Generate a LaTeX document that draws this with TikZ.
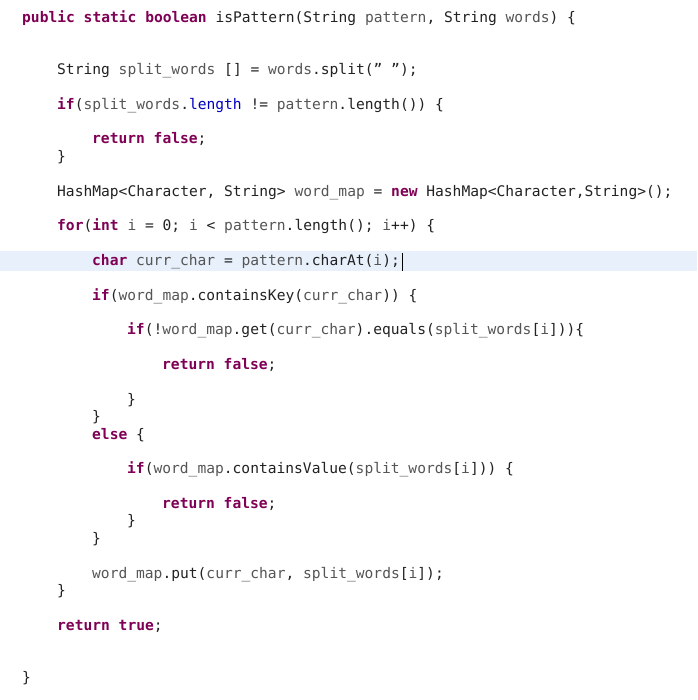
\documentclass[tikz,border=0pt]{standalone}
\usepackage{fontspec}
\setmainfont[Ligatures=NoCommon]{DejaVu Sans Mono}
\definecolor{kwc}{HTML}{7F0055}
\definecolor{vrc}{HTML}{555555}
\definecolor{fdc}{HTML}{0000C0}
\definecolor{txc}{HTML}{222222}
\definecolor{hlc}{HTML}{E8F0FB}
\newcommand{\kw}[1]{\textbf{\textcolor{kwc}{#1}}}
\newcommand{\vr}[1]{\textcolor{vrc}{#1}}
\newcommand{\fd}[1]{\textcolor{fdc}{#1}}
\newcommand{\dq}{\symbol{34}}
\begin{document}
\begin{tikzpicture}[x=1pt,y=-1pt,
  code/.style={anchor=mid west, inner sep=0pt, text=txc, font=\fontsize{14.6}{16}\selectfont}]
\useasboundingbox (0,0) rectangle (697,700);
\fill[white] (0,0) rectangle (697,700);
\fill[hlc] (0,251) rectangle (697,271);
\begin{scope}[yshift=-3pt]
\node[code] (l1) at (22,17) {\kw{public} \kw{static} \kw{boolean} isPattern(String \vr{pattern}, String \vr{words}) \{};
\node[code] (l2) at (57,69) {String \vr{split\_words} [] = \vr{words}.split(\dq{} \dq{});};
\node[code] (l3) at (57,104) {\kw{if}(\vr{split\_words}.\fd{length} != \vr{pattern}.length()) \{};
\node[code] (l4) at (92,138) {\kw{return} \kw{false};};
\node[code] (l5) at (57,156) {\}};
\node[code] (l6) at (57,191) {HashMap<Character, String> \vr{word\_map} = \kw{new} HashMap<Character,String>();};
\node[code] (l7) at (57,225) {\kw{for}(\kw{int} \vr{i} = 0; \vr{i} < \vr{pattern}.length(); \vr{i}++) \{};
\node[code] (l8) at (92,260) {\kw{char} \vr{curr\_char} = \vr{pattern}.charAt(\vr{i});};
\draw[line width=1pt] ([xshift=2pt]l8.east) ++(0,-9) coordinate (c1) -- ++(0,18) coordinate (c2);
\node[code] (l9) at (92,295) {\kw{if}(\vr{word\_map}.containsKey(\vr{curr\_char})) \{};
\node[code] (l10) at (127,329) {\kw{if}(!\vr{word\_map}.get(\vr{curr\_char}).equals(\vr{split\_words}[\vr{i}]))\{};
\node[code] (l11) at (162,364) {\kw{return} \kw{false};};
\node[code] (l12) at (127,399) {\}};
\node[code] (l13) at (92,416) {\}};
\node[code] (l14) at (92,434) {\kw{else} \{};
\node[code] (l15) at (127,468) {\kw{if}(\vr{word\_map}.containsValue(\vr{split\_words}[\vr{i}])) \{};
\node[code] (l16) at (162,503) {\kw{return} \kw{false};};
\node[code] (l17) at (127,520) {\}};
\node[code] (l18) at (92,538) {\}};
\node[code] (l19) at (92,573) {\vr{word\_map}.put(\vr{curr\_char}, \vr{split\_words}[\vr{i}]);};
\node[code] (l20) at (57,590) {\}};
\node[code] (l21) at (57,625) {\kw{return} \kw{true};};
\node[code] (l22) at (22,677) {\}};
\end{scope}
\end{tikzpicture}
\end{document}
